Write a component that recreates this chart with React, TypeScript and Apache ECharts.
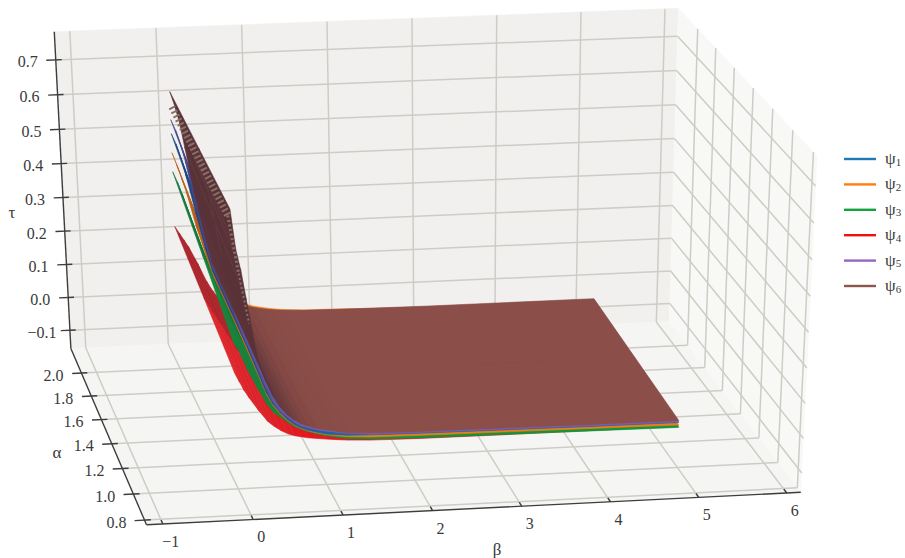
import React, { useEffect, useRef } from "react";
import * as echarts from "echarts";

const betaTicks = [-1, 0, 1, 2, 3, 4, 5, 6];
const betaLabels = ["−1", "0", "1", "2", "3", "4", "5", "6"];
const alphaTicks = [0.8, 1.0, 1.2, 1.4, 1.6, 1.8, 2.0];
const alphaLabels = ["0.8", "1.0", "1.2", "1.4", "1.6", "1.8", "2.0"];
const tauTicks = [-0.1, 0.0, 0.1, 0.2, 0.3, 0.4, 0.5, 0.6, 0.7];
const tauLabels = ["−0.1", "0.0", "0.1", "0.2", "0.3", "0.4", "0.5", "0.6", "0.7"];

const betaNodes = [0, 0.05, 0.1, 0.15, 0.25, 0.35, 0.42, 0.5, 0.58, 0.65, 0.72, 0.8, 0.9, 1, 1.12, 1.25, 1.5, 2, 3, 4, 5];

// tau read at alpha = 2 (Back) and alpha = 1 (Front)
const psi1Back = [0.54, 0.51, 0.47, 0.42, 0.31, 0.205, 0.14, 0.1, 0.068, 0.048, 0.034, 0.023, 0.015, 0.01, 0.006, 0.003, 0, -0.002, -0.004, -0.004, -0.004];
const psi1Front = [0.36, 0.33, 0.3, 0.26, 0.185, 0.115, 0.082, 0.056, 0.036, 0.022, 0.012, 0.004, -0.003, -0.009, -0.013, -0.016, -0.018, -0.02, -0.022, -0.024, -0.025];
const psi2Back = [0.485, 0.45, 0.41, 0.37, 0.27, 0.185, 0.13, 0.095, 0.072, 0.056, 0.042, 0.031, 0.023, 0.018, 0.013, 0.009, 0.005, 0.003, -0.005, -0.005, -0.005];
const psi2Front = [0.35, 0.32, 0.29, 0.255, 0.18, 0.11, 0.078, 0.052, 0.033, 0.02, 0.01, 0.002, -0.005, -0.011, -0.016, -0.02, -0.024, -0.026, -0.028, -0.03, -0.032];
const psi3Back = [0.43, 0.4, 0.365, 0.325, 0.245, 0.165, 0.12, 0.085, 0.058, 0.04, 0.028, 0.018, 0.011, 0.006, 0.003, 0, -0.004, -0.006, -0.008, -0.008, -0.008];
const psi3Front = [0.26, 0.24, 0.21, 0.18, 0.13, 0.083, 0.06, 0.044, 0.028, 0.016, 0.008, 0, -0.008, -0.014, -0.02, -0.026, -0.03, -0.033, -0.035, -0.037, -0.039];
const psi4Back = [0.27, 0.25, 0.23, 0.21, 0.16, 0.105, 0.075, 0.048, 0.032, 0.02, 0.012, 0.008, 0.003, 0, -0.003, -0.006, -0.01, -0.012, -0.012, -0.012, -0.012];
const psi4Front = [0.175, 0.15, 0.125, 0.105, 0.068, 0.035, 0.02, 0.006, -0.004, -0.01, -0.014, -0.018, -0.021, -0.024, -0.027, -0.03, -0.033, -0.035, -0.036, -0.036, -0.036];
const psi5Back = [0.58, 0.55, 0.51, 0.46, 0.33, 0.22, 0.15, 0.105, 0.072, 0.05, 0.036, 0.025, 0.017, 0.012, 0.008, 0.005, 0.002, 0, -0.002, -0.002, -0.002];
const psi5Front = [0.42, 0.38, 0.34, 0.29, 0.2, 0.125, 0.088, 0.06, 0.042, 0.028, 0.018, 0.011, 0.004, -0.001, -0.006, -0.011, -0.016, -0.018, -0.02, -0.022, -0.023];
const psi6Back = [0.66, 0.62, 0.57, 0.5, 0.36, 0.24, 0.165, 0.11, 0.075, 0.052, 0.038, 0.027, 0.019, 0.014, 0.01, 0.007, 0.004, 0.002, 0, 0, 0];
const psi6Front = [0.63, 0.52, 0.46, 0.38, 0.22, 0.145, 0.105, 0.072, 0.05, 0.035, 0.024, 0.016, 0.008, 0.003, -0.003, -0.009, -0.012, -0.015, -0.016, -0.018, -0.019];

const seriesNames = ["ψ1", "ψ2", "ψ3", "ψ4", "ψ5", "ψ6"];
const legendColors = ["#1f77b4", "#ff7f0e", "#12a33c", "#f01010", "#9467bd", "#8c564b"];
const lightColors: number[][] = [[35, 95, 165], [240, 125, 20], [15, 150, 60], [228, 22, 28], [125, 95, 175], [140, 78, 72]];
const darkBack: number[][] = [[30, 60, 115], [165, 85, 30], [25, 105, 60], [135, 45, 50], [55, 65, 125], [78, 44, 52]];
const darkFront: number[][] = [[30, 75, 140], [185, 95, 30], [25, 125, 60], [215, 45, 50], [85, 80, 150], [78, 44, 52]];
const paintOrder = [3, 2, 1, 0, 4, 5];
const backRows = [psi1Back, psi2Back, psi3Back, psi4Back, psi5Back, psi6Back];
const frontRows = [psi1Front, psi2Front, psi3Front, psi4Front, psi5Front, psi6Front];

// box limits and the camera calibration
const bMin = -1.18, bMax = 6.16, aMin = 0.765, aMax = 2.22, tMin = -0.156, tMax = 0.78;
const surfA0 = 1, surfA1 = 2;
const calibration: number[][] = [
  [0, 0, 0, 147, 525],
  [1, 0, 0, 800.7, 493],
  [0, 1, 0, 70.7, 348],
  [1, 1, 0, 669, 321],
  [0, 1, 1, 54, 32],
  [1, 1, 1, 679, 9],
  [1, 0, 1, 816.7, 155],
];

function solveCamera(): number[] {
  const rows: number[][] = [];
  const rhs: number[] = [];
  for (const [u, v, w, X, Y] of calibration) {
    rows.push([u, v, w, 1, 0, 0, 0, 0, -X * u, -X * v, -X * w]);
    rhs.push(X);
    rows.push([0, 0, 0, 0, u, v, w, 1, -Y * u, -Y * v, -Y * w]);
    rhs.push(Y);
  }
  const n = 11;
  const m: number[][] = [];
  for (let i = 0; i < n; i++) {
    const r: number[] = [];
    for (let j = 0; j < n; j++) {
      let s = 0;
      rows.forEach((row) => (s += row[i] * row[j]));
      r.push(s);
    }
    let s = 0;
    rows.forEach((row, k) => (s += row[i] * rhs[k]));
    r.push(s);
    m.push(r);
  }
  for (let c = 0; c < n; c++) {
    let p = c;
    for (let i = c + 1; i < n; i++) if (Math.abs(m[i][c]) > Math.abs(m[p][c])) p = i;
    [m[c], m[p]] = [m[p], m[c]];
    for (let i = 0; i < n; i++) {
      if (i === c) continue;
      const f = m[i][c] / m[c][c];
      for (let j = c; j <= n; j++) m[i][j] -= f * m[c][j];
    }
  }
  return m.map((r, i) => r[n] / r[i]);
}
const cam = solveCamera();
function project(b: number, a: number, t: number): number[] {
  const u = (b - bMin) / (bMax - bMin);
  const v = (a - aMin) / (aMax - aMin);
  const w = (t - tMin) / (tMax - tMin);
  const d = cam[8] * u + cam[9] * v + cam[10] * w + 1;
  return [(cam[0] * u + cam[1] * v + cam[2] * w + cam[3]) / d, (cam[4] * u + cam[5] * v + cam[6] * w + cam[7]) / d];
}

const SERIF = '"Liberation Serif", "Noto Serif", serif';
const gridColor = "#cdccc5";

function custom(name: string, data: any[], renderItem: any, extra: any = {}) {
  return { type: "custom", name, coordinateSystem: "cartesian2d", silent: true, clip: false, animation: false, data, renderItem, ...extra };
}

function polygonItem(api: any, corners: number[][], fill: string) {
  return {
    type: "polygon",
    shape: { points: corners.map((c) => api.coord(project(c[0], c[1], c[2]))) },
    style: { fill, stroke: fill, lineWidth: 0.6 },
  };
}

const panes = [
  { fill: "#f1f0ee", c: [[bMin, aMax, tMin], [bMax, aMax, tMin], [bMax, aMax, tMax], [bMin, aMax, tMax]] },
  { fill: "#f5f5f3", c: [[bMin, aMin, tMin], [bMax, aMin, tMin], [bMax, aMax, tMin], [bMin, aMax, tMin]] },
  { fill: "#f8f8f6", c: [[bMax, aMin, tMin], [bMax, aMax, tMin], [bMax, aMax, tMax], [bMax, aMin, tMax]] },
];

const gridSegments: number[][] = [];
betaTicks.forEach((b) => {
  gridSegments.push([b, aMin, tMin, b, aMax, tMin]);
  gridSegments.push([b, aMax, tMin, b, aMax, tMax]);
});
alphaTicks.forEach((a) => {
  gridSegments.push([bMin, a, tMin, bMax, a, tMin]);
  gridSegments.push([bMax, a, tMin, bMax, a, tMax]);
});
tauTicks.forEach((t) => {
  gridSegments.push([bMin, aMax, t, bMax, aMax, t]);
  gridSegments.push([bMax, aMax, t, bMax, aMin, t]);
});

const axisSegments: number[][] = [
  [bMin, aMin, tMin, bMax, aMin, tMin],
  [bMin, aMin, tMin, bMin, aMax, tMin],
  [bMin, aMax, tMin, bMin, aMax, tMax],
];
betaTicks.forEach((b) => axisSegments.push([b, aMin, tMin, b, aMin + 0.03, tMin]));
alphaTicks.forEach((a) => axisSegments.push([bMin - 0.11, a, tMin, bMin + 0.07, a, tMin]));
tauTicks.forEach((t) => axisSegments.push([bMin - 0.11, aMax, t, bMin + 0.07, aMax, t]));

const labelTexts: string[] = [];
const labelAnchors: number[][] = [];
betaTicks.forEach((b, i) => { labelTexts.push(betaLabels[i]); labelAnchors.push([b, aMin, tMin, 8, 17.5]); });
alphaTicks.forEach((a, i) => { labelTexts.push(alphaLabels[i]); labelAnchors.push([bMin, a, tMin, -28, 2]); });
tauTicks.forEach((t, i) => { labelTexts.push(tauLabels[i]); labelAnchors.push([bMin, aMax, t, -28, 2]); });

const nameTexts = ["β", "α", "τ"];
const namePositions = [[497, 549], [57, 452], [12, 212]];

function segmentRender(color: string, width: number) {
  return (_p: any, api: any) => {
    const a = api.coord(project(api.value(0), api.value(1), api.value(2)));
    const b = api.coord(project(api.value(3), api.value(4), api.value(5)));
    return { type: "line", shape: { x1: a[0], y1: a[1], x2: b[0], y2: b[1] }, style: { stroke: color, lineWidth: width } };
  };
}

function surfaceSeries(idx: number) {
  const back = backRows[idx];
  const front = frontRows[idx];
  const data: number[][] = [];
  for (let i = betaNodes.length - 2; i >= 0; i--) {
    data.push([betaNodes[i], betaNodes[i + 1], back[i], front[i], back[i + 1], front[i + 1]]);
  }
  const light = lightColors[idx];
  const dB = darkBack[idx];
  const dF = darkFront[idx];
  return custom(seriesNames[idx], data, (_p: any, api: any) => {
    const b0 = api.value(0), b1 = api.value(1);
    const t20 = api.value(2), t10 = api.value(3), t21 = api.value(4), t11 = api.value(5);
    const ax = (b1 - b0) / 8;
    const az = ((t21 + t11 - t20 - t10) / 2) / 0.9;
    const by = 1;
    const bz = ((t20 + t21 - t10 - t11) / 2) / 0.9;
    const nx = -az * by, ny = -ax * bz, nz = ax * by;
    const tt = Math.min(1, Math.abs(nz) / Math.sqrt(nx * nx + ny * ny + nz * nz));
    const s = Math.pow(tt, 0.7);
    const mix = (d: number[]) => `rgb(${light.map((l, k) => Math.round(d[k] + (l - d[k]) * s)).join(",")})`;
    const aMid = (surfA0 + surfA1) / 2;
    const m0 = (t20 + t10) / 2, m1 = (t21 + t11) / 2;
    return {
      type: "group",
      children: [
        polygonItem(api, [[b0, surfA1, t20], [b1, surfA1, t21], [b1, aMid, m1], [b0, aMid, m0]], mix(dB)),
        polygonItem(api, [[b0, aMid, m0], [b1, aMid, m1], [b1, surfA0, t11], [b0, surfA0, t10]], mix(dF)),
      ],
    };
  }, { itemStyle: { color: legendColors[idx] } });
}

// [beta, alpha, tau, beta, alpha, tau, width] of the banded rim of the tallest surface
const rimSegments: number[][] = [
  [0, 1.97, 0.625, 0, 1.03, 0.6, 7],
  [0, 1.04, 0.6, 0.1, 1.04, 0.44, 3],
  [0.1, 1.04, 0.44, 0.2, 1.04, 0.3, 2],
];

const App = () => {
  const ref = useRef<HTMLDivElement>(null);
  useEffect(() => {
    document.body.style.margin = "0";
    const chart = echarts.init(ref.current!, undefined, { renderer: "svg" });
    chart.setOption({
      animation: false,
      grid: { left: 0, right: 0, top: 0, bottom: 0 },
      xAxis: { type: "value", min: 0, max: 905, show: false },
      yAxis: { type: "value", min: 0, max: 558, inverse: true, show: false },
      legend: {
        orient: "vertical",
        left: 844,
        top: 150,
        padding: 0,
        itemWidth: 32,
        itemHeight: 2.4,
        itemGap: 8.4,
        icon: "rect",
        data: seriesNames,
        selectedMode: false,
        formatter: (name: string) => `{p|${name.charAt(0)}}{s|${name.charAt(1)}}`,
        textStyle: {
          fontFamily: SERIF,
          color: "#3a3a3a",
          padding: [0, 0, 0, 4],
          rich: {
            p: { fontFamily: SERIF, fontSize: 17, lineHeight: 16, verticalAlign: "bottom", color: "#3a3a3a" },
            s: { fontFamily: SERIF, fontSize: 11, lineHeight: 11, verticalAlign: "bottom", color: "#3a3a3a" },
          },
        },
      },
      series: [
        custom("panes", panes.map((_, i) => [i]), (p: any, api: any) => polygonItem(api, panes[p.dataIndex].c, panes[p.dataIndex].fill)),
        custom("grid", gridSegments, segmentRender(gridColor, 1.5)),
        custom("axes", axisSegments, segmentRender("#3d3d3d", 1.4)),
        ...paintOrder.map((i) => surfaceSeries(i)),
        custom("rim", rimSegments, (_p: any, api: any) => {
          const a = api.coord(project(api.value(0), api.value(1), api.value(2)));
          const b = api.coord(project(api.value(3), api.value(4), api.value(5)));
          return { type: "line", shape: { x1: a[0], y1: a[1], x2: b[0], y2: b[1] }, style: { stroke: "#8a6f66", lineWidth: api.value(6), lineDash: [2, 2.6] } };
        }),
        custom("tickLabels", labelAnchors, (p: any, api: any) => {
          const c = api.coord(project(api.value(0), api.value(1), api.value(2)));
          return { type: "text", style: { text: labelTexts[p.dataIndex], x: c[0] + api.value(3), y: c[1] + api.value(4), align: "center", verticalAlign: "middle", fontFamily: SERIF, fontSize: 16, fill: "#3a3a3a" } };
        }),
        custom("axisNames", namePositions, (p: any, api: any) => {
          const c = api.coord([api.value(0), api.value(1)]);
          return { type: "text", style: { text: nameTexts[p.dataIndex], x: c[0], y: c[1], align: "center", verticalAlign: "middle", fontFamily: SERIF, fontSize: 17, fill: "#3a3a3a" } };
        }),
      ],
    });
    return () => chart.dispose();
  }, []);
  return <div ref={ref} style={{ width: 905, height: 558 }} />;
};

export default App;
